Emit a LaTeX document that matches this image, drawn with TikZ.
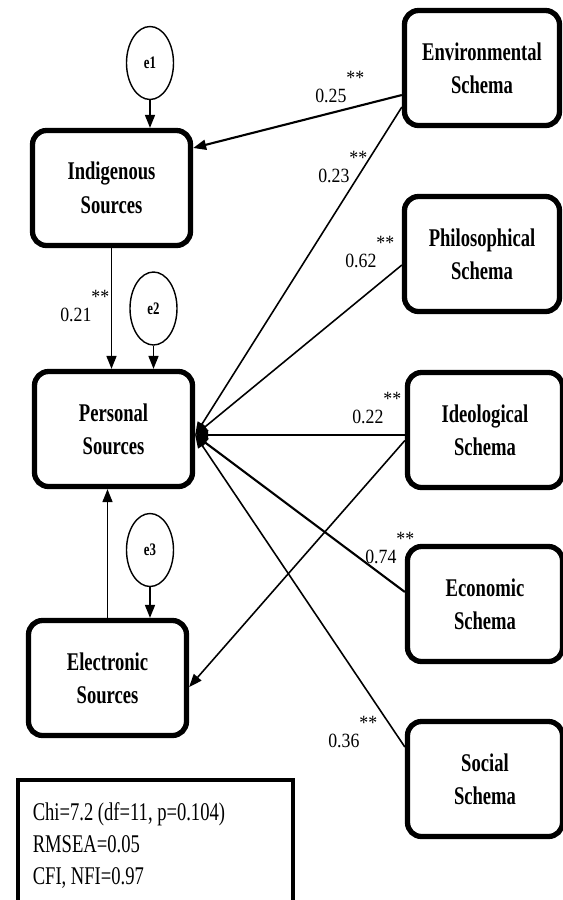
\documentclass[tikz,border=0pt]{standalone}
\usepackage{fontspec}
\setmainfont{Liberation Serif}
\newfontfamily\narrowserif[FakeStretch=0.73]{Liberation Serif}
\newfontfamily\numserif[FakeStretch=0.88]{Liberation Serif}
\usetikzlibrary{arrows.meta,shapes.geometric}

\newcommand\starsig{\raisebox{0.85em}{**}}

\begin{document}
\begin{tikzpicture}

    \tikzset{
        block/.style={
            draw,
            rectangle,
            rounded corners=0.28cm,
            line width=3pt,
            minimum width=3.16cm,
            minimum height=2.3cm,
            align=center,
            font=\narrowserif\bfseries\fontsize{14.5}{19}\selectfont
        },
        schema/.style={block, minimum width=3.1cm},
        err/.style={
            draw,
            ellipse,
            line width=0.8pt,
            minimum width=0.94cm,
            minimum height=1.46cm,
            inner sep=0pt,
            font=\narrowserif\bfseries\fontsize{10}{12}\selectfont
        },
        link/.style={line width=0.9pt, -{Triangle[length=0.26cm,width=0.2cm]}},
        coef/.style={anchor=base west, inner sep=0pt, font=\numserif\fontsize{11.5}{13}\selectfont}
    }

    \useasboundingbox (0,0) rectangle (11.26,-18);
    \clip (0,0) rectangle (11.26,-18);

    % positions
    \coordinate (pE1) at (3.00,-1.26);
    \coordinate (pE2) at (3.07,-6.17);
    \coordinate (pE3) at (3.00,-11.00);
    \coordinate (pInd) at (2.23,-3.76);
    \coordinate (pPer) at (2.27,-8.58);
    \coordinate (pEle) at (2.15,-13.56);
    \coordinate (pEnv) at (9.64,-1.36);
    \coordinate (pPhi) at (9.64,-5.08);
    \coordinate (pIde) at (9.70,-8.60);
    \coordinate (pEco) at (9.70,-12.08);
    \coordinate (pSoc) at (9.70,-15.58);

    % sources
    \node[block] (ind) at (pInd) {Indigenous\\Sources};
    \node[block] (per) at (pPer) {Personal\\Sources};
    \node[block] (ele) at (pEle) {Electronic\\Sources};

    % error terms
    \node[err] (e1) at (pE1) {e1};
    \node[err] (e2) at (pE2) {e2};
    \node[err] (e3) at (pE3) {e3};

    % schemas
    \node[schema] (env) at (pEnv) {Environmental\\Schema};
    \node[schema] (phi) at (pPhi) {Philosophical\\Schema};
    \node[schema] (ide) at (pIde) {Ideological\\Schema};
    \node[schema] (eco) at (pEco) {Economic\\Schema};
    \node[schema] (soc) at (pSoc) {Social\\Schema};

    % fit
    \node[draw, line width=2pt, anchor=north west,
          minimum width=5.5cm, minimum height=2.64cm,
          text width=4.9cm, inner xsep=0.3cm, align=left,
          font=\narrowserif\fontsize{14.5}{18.1}\selectfont]
        (fit) at (0.32,-15.56)
        {\spaceskip=2.6pt Chi=7.2 (df=11, p=0.104)\\RMSEA=0.05\\CFI, NFI=0.97};

    % paths
    \coordinate (hub) at ([yshift=-0.12cm]per.east);
    \draw[link, line width=1.2pt] ([yshift=-0.54cm]env.west) -- ([yshift=0.8cm]ind.east);
    \draw[link] ([yshift=-0.78cm]env.west) -- (hub);
    \draw[link] ([yshift=-0.22cm]phi.west) -- (hub);
    \draw[link] (hub -| ide.west) -- (hub);
    \draw[link] ([yshift=-0.21cm]ide.west) -- ([yshift=-0.18cm]ele.east);
    \draw[link, line width=1.2pt] ([yshift=0.24cm]eco.west) -- (hub);
    \draw[link] ([yshift=0.64cm]soc.west) -- (hub);
    \draw[link] (ind.south) -- (ind.south |- per.north);
    \draw[link] (ele.north) -- (ele.north |- per.south);
    \draw[link] (e1) -- (e1 |- ind.north);
    \draw[link] (e2) -- (e2 |- per.north);
    \draw[link] (e3) -- (e3 |- ele.north);

    % coefficients
    \node[coef] (c25) at (6.30,-2.04) {0.25\starsig};
    \node[coef] (c23) at (6.36,-3.64) {0.23\starsig};
    \node[coef] (c62) at (6.90,-5.34) {0.62\starsig};
    \node[coef] (c22) at (7.04,-8.46) {0.22\starsig};
    \node[coef] (c74) at (7.30,-11.26) {0.74\starsig};
    \node[coef] (c36) at (6.56,-14.94) {0.36\starsig};
    \node[coef] (c21) at (1.20,-6.42) {0.21\starsig};

\end{tikzpicture}
\end{document}
